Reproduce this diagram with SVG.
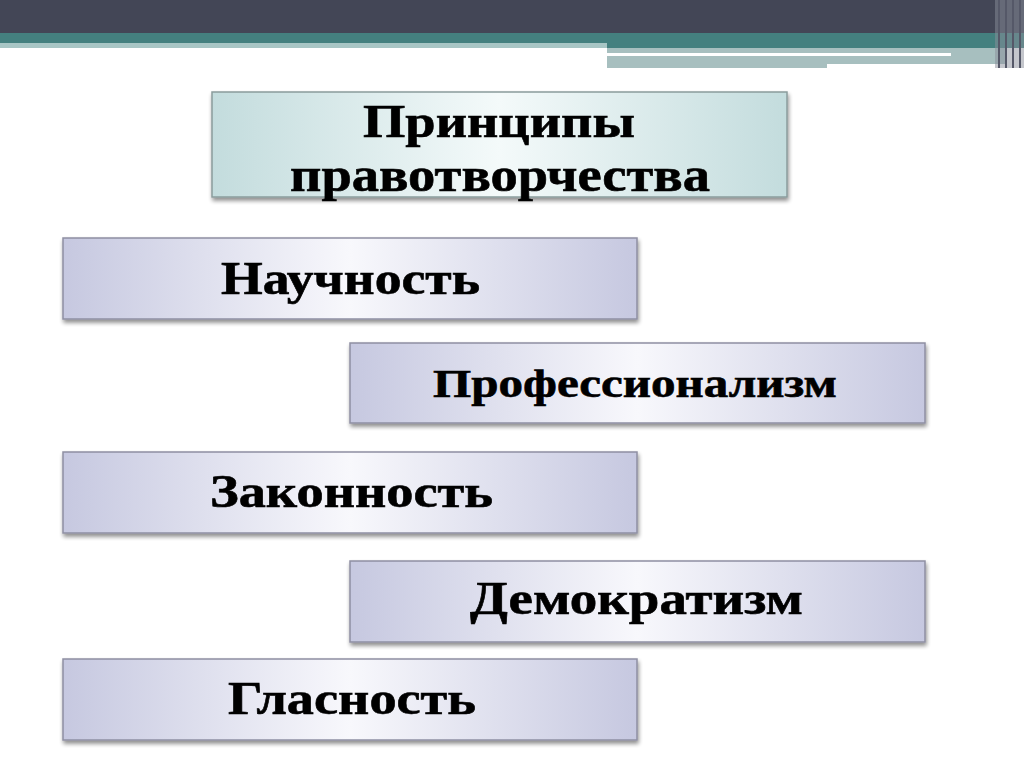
<svg xmlns="http://www.w3.org/2000/svg" width="1024" height="767" viewBox="0 0 1024 767">
<defs>
<linearGradient id="gTeal" x1="0" y1="0" x2="1" y2="0">
<stop offset="0" stop-color="#c3dcdd"/><stop offset="0.5" stop-color="#f4fafa"/><stop offset="1" stop-color="#c3dcdd"/>
</linearGradient>
<linearGradient id="gLav" x1="0" y1="0" x2="1" y2="0">
<stop offset="0" stop-color="#c6c8e0"/><stop offset="0.5" stop-color="#f8f8fc"/><stop offset="1" stop-color="#c6c8e0"/>
</linearGradient>
<filter id="sh" x="-5%" y="-10%" width="110%" height="130%">
<feGaussianBlur in="SourceAlpha" stdDeviation="2"/><feOffset dx="1" dy="3"/>
<feComponentTransfer><feFuncA type="linear" slope="0.45"/></feComponentTransfer>
<feMerge><feMergeNode/><feMergeNode in="SourceGraphic"/></feMerge>
</filter>
</defs>
<style>
.box{fill:url(#gLav);stroke:#8e8fa3;stroke-width:1.5;filter:url(#sh)}
.title{fill:url(#gTeal);stroke:#8a9c9c;stroke-width:1.5;filter:url(#sh)}
.t{font-family:"Liberation Serif","Times New Roman",serif;font-weight:bold;fill:#000;text-anchor:middle;stroke:#000;stroke-width:0.6}
</style>
<rect width="1024" height="767" fill="#ffffff"/>
<g id="header">
<rect x="0" y="0" width="1024" height="33" fill="#434656"/>
<rect x="0" y="33" width="1024" height="15" fill="#44807f"/>
<rect x="0" y="43" width="607" height="5" fill="#a8c6c5"/>
<rect x="607" y="48" width="400" height="9" fill="#a7bfbf"/>
<rect x="607" y="53" width="344" height="3" fill="#ffffff"/>
<rect x="607" y="57" width="400" height="7" fill="#a7bfbf"/>
<rect x="607" y="64" width="220" height="4" fill="#a7bfbf"/>
<rect x="995" y="0" width="29" height="68" fill="#8a8d99" opacity="0.5"/>
<rect x="998" y="0" width="2" height="68" fill="#555868"/>
<rect x="1005" y="0" width="2" height="68" fill="#555868"/>
<rect x="1012" y="0" width="2" height="68" fill="#555868"/>
<rect x="1019" y="0" width="2" height="68" fill="#555868"/>
</g>
<g id="title">
<rect class="title" x="212" y="92" width="575" height="105"/>
<text class="t" x="499" y="137" font-size="47" textLength="272" lengthAdjust="spacingAndGlyphs">Принципы</text>
<text class="t" x="500" y="191" font-size="48" textLength="420" lengthAdjust="spacingAndGlyphs">правотворчества</text>
</g>
<g id="n1">
<rect class="box" x="63" y="238" width="574" height="81"/>
<text class="t" x="350.5" y="294" font-size="47" textLength="259" lengthAdjust="spacingAndGlyphs">Научность</text>
</g>
<g id="n2">
<rect class="box" x="350" y="343" width="575" height="80"/>
<text class="t" x="635" y="397" font-size="39" textLength="404" lengthAdjust="spacingAndGlyphs">Профессионализм</text>
</g>
<g id="n3">
<rect class="box" x="63" y="452" width="574" height="81"/>
<text class="t" x="351.5" y="507" font-size="46" textLength="283" lengthAdjust="spacingAndGlyphs">Законность</text>
</g>
<g id="n4">
<rect class="box" x="350" y="561" width="575" height="81"/>
<text class="t" x="636.5" y="614" font-size="46" textLength="333" lengthAdjust="spacingAndGlyphs">Демократизм</text>
</g>
<g id="n5">
<rect class="box" x="63" y="659" width="574" height="81"/>
<text class="t" x="352" y="714" font-size="46" textLength="248" lengthAdjust="spacingAndGlyphs">Гласность</text>
</g>
</svg>
